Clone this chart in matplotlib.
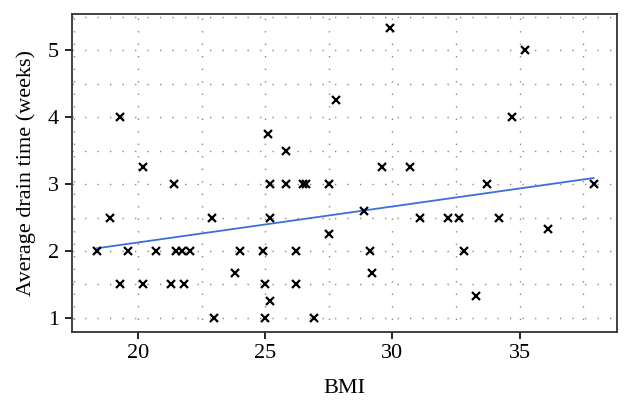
import numpy as np
import matplotlib
matplotlib.use("Agg")
import matplotlib.pyplot as plt
from matplotlib.ticker import MultipleLocator

# BMI vs average drain time
bmi = [19.3, 20.2, 21.4, 25.1, 25.8, 25.2, 25.8, 26.5, 26.6, 27.5, 27.8,
       29.9, 35.2, 34.7, 29.6, 30.7, 33.7, 37.9,
       18.9, 22.9, 25.2, 27.5,
       18.4, 19.6, 20.7, 21.5, 21.75, 22.05, 24.0, 24.9, 26.2,
       23.8, 19.3, 20.2, 21.3, 21.8, 25.0, 26.2, 25.2,
       23.0, 25.0, 26.9,
       28.9, 31.1, 32.2, 32.6, 34.2, 36.1, 29.1, 32.8, 29.2, 33.3]
drain = [4.0, 3.25, 3.0, 3.75, 3.5, 3.0, 3.0, 3.0, 3.0, 3.0, 4.25,
         5.33, 5.0, 4.0, 3.25, 3.25, 3.0, 3.0,
         2.5, 2.5, 2.5, 2.25,
         2.0, 2.0, 2.0, 2.0, 2.0, 2.0, 2.0, 2.0, 2.0,
         1.67, 1.5, 1.5, 1.5, 1.5, 1.5, 1.5, 1.25,
         1.0, 1.0, 1.0,
         2.6, 2.5, 2.5, 2.5, 2.5, 2.33, 2.0, 2.0, 1.67, 1.33]

# regression line as printed in the figure
trend_slope = 0.0538
trend_intercept = 1.051

x_ticks = [20, 25, 30, 35]
y_ticks = [1, 2, 3, 4, 5]

plt.rcParams['font.family'] = ['Liberation Serif', 'DejaVu Serif']

fig = plt.figure(figsize=(6.32, 4.07), dpi=100)
ax = fig.add_axes([0.1134, 0.1843, 0.8633, 0.7813])

ax.plot(bmi, drain, linestyle='none', marker='x', color='black',
        markersize=5.5, markeredgewidth=1.6, zorder=3)

xs = np.array([min(bmi), max(bmi)])
ax.plot(xs, trend_slope * xs + trend_intercept, color='#3d6fdb',
        linewidth=1.3, zorder=2)

ax.set_xlim(17.4, 38.83)
ax.set_ylim(0.79, 5.54)
ax.set_xticks(x_ticks)
ax.set_yticks(y_ticks)
ax.xaxis.set_minor_locator(MultipleLocator(2.5))
ax.yaxis.set_minor_locator(MultipleLocator(0.5))
ax.tick_params(which='major', direction='out', length=5, width=1.2,
               labelsize=16, colors='black', pad=4)
ax.tick_params(which='minor', length=0)
ax.grid(which='both', linestyle=(0, (1, 8)), color='#888888', linewidth=1.0)

for s in ax.spines.values():
    s.set_color('#333333')
    s.set_linewidth(1.3)

ax.set_xlabel("BMI", fontsize=16, labelpad=11)
ax.set_ylabel("Average drain time (weeks)", fontsize=16, labelpad=9)

fig.savefig("out.png", dpi=100)
